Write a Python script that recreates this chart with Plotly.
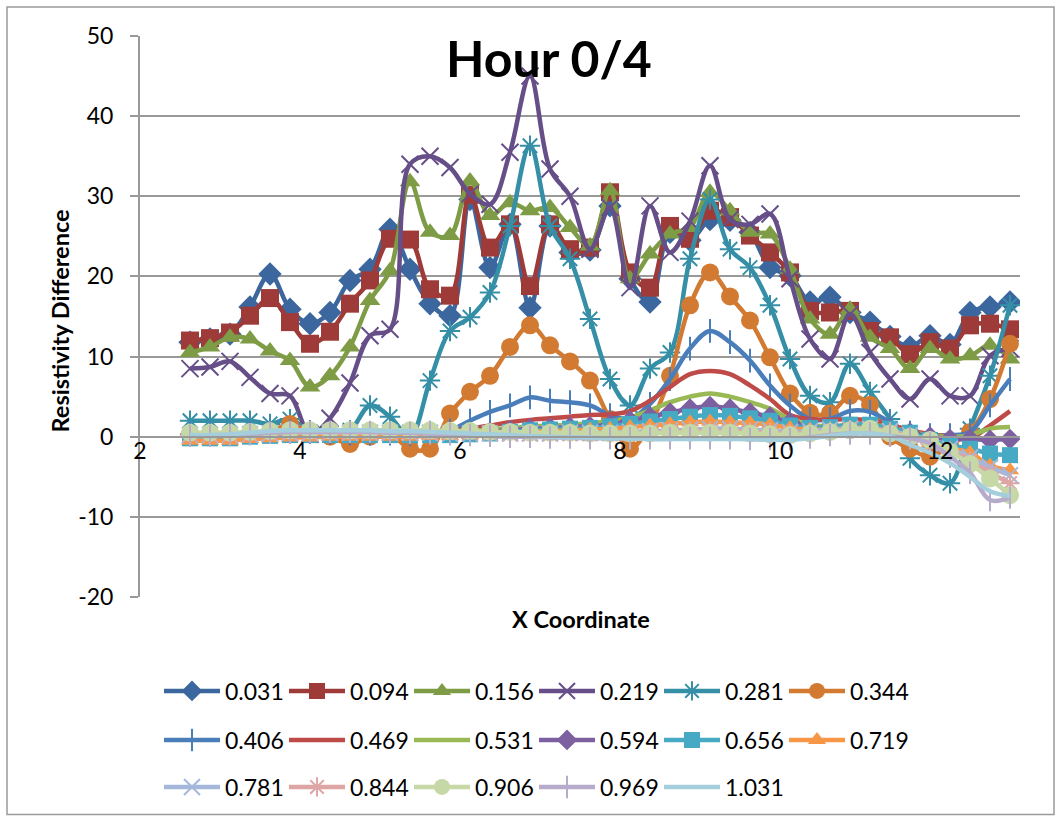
import plotly.graph_objects as go

x_coord = [2.625, 2.875, 3.125, 3.375, 3.625, 3.875, 4.125, 4.375, 4.625, 4.875,
           5.125, 5.375, 5.625, 5.875, 6.125, 6.375, 6.625, 6.875, 7.125, 7.375,
           7.625, 7.875, 8.125, 8.375, 8.625, 8.875, 9.125, 9.375, 9.625, 9.875,
           10.125, 10.375, 10.625, 10.875, 11.125, 11.375, 11.625, 11.875, 12.125, 12.375,
           12.625, 12.875]

series_names = ["0.031", "0.094", "0.156", "0.219", "0.281", "0.344", "0.406", "0.469", "0.531",
                "0.594", "0.656", "0.719", "0.781", "0.844", "0.906", "0.969", "1.031"]

s_0031 = [11.8, 12.2, 12.8, 16.2, 20.3, 15.9, 14.1, 15.5, 19.5, 20.9, 25.9, 20.9, 16.6, 15.1, 29.6, 21.1,
          26.5, 16.1, 26.3, 23.0, 23.3, 28.8, 19.7, 16.8, 25.5, 24.5, 27.1, 27.0, 25.5, 21.1, 20.1, 16.8,
          17.4, 15.5, 14.3, 12.5, 11.2, 12.6, 11.5, 15.5, 16.2, 16.8]
s_0094 = [12.0, 12.3, 13.0, 15.1, 17.3, 14.3, 11.6, 13.1, 16.6, 19.5, 24.7, 24.6, 18.4, 17.6, 30.2, 23.6,
          26.5, 18.8, 26.5, 23.4, 23.6, 30.5, 20.5, 18.6, 26.3, 24.7, 28.2, 27.4, 25.1, 23.0, 20.5, 15.7,
          15.5, 15.7, 13.2, 12.4, 10.3, 11.8, 11.0, 13.9, 14.1, 13.4]
s_0156 = [10.5, 11.2, 12.4, 12.2, 10.7, 9.5, 6.2, 7.6, 11.2, 17.0, 20.7, 31.8, 25.5, 25.1, 31.9, 27.6,
          29.2, 28.2, 28.6, 26.1, 23.8, 30.7, 19.7, 22.8, 25.3, 26.1, 30.5, 28.2, 25.5, 25.3, 20.9, 14.7,
          12.8, 15.9, 12.4, 11.0, 8.5, 11.0, 9.7, 10.1, 11.4, 9.7]
s_0219 = [8.5, 8.7, 9.4, 7.4, 5.4, 5.1, 0.3, 2.3, 6.7, 12.6, 13.4, 34.0, 35.0, 33.6, 30.3, 29.0,
          35.5, 45.0, 33.4, 30.0, 23.4, 28.6, 18.6, 28.8, 23.0, 26.9, 33.8, 27.1, 26.5, 27.8, 19.7, 12.2,
          9.7, 15.3, 10.5, 7.2, 4.7, 7.2, 5.1, 5.1, 10.1, 11.0]
s_0281 = [2.0, 2.0, 2.0, 2.0, 1.6, 2.2, 0.6, 0.5, 0.8, 3.9, 2.5, 0.0, 7.0, 13.2, 14.9, 18.0,
          26.3, 36.3, 26.3, 22.2, 14.7, 7.2, 3.9, 8.5, 10.5, 22.2, 29.6, 23.4, 21.1, 16.4, 9.7, 5.1,
          4.3, 9.1, 5.6, 2.2, -2.7, -4.8, -5.8, 1.0, 7.6, 16.4]
s_0344 = [0.3, 0.3, 0.3, 0.4, 0.6, 1.6, 0.5, 0.0, -0.9, 0.0, 0.3, -1.5, -1.5, 2.9, 5.6, 7.6,
          11.2, 13.9, 11.4, 9.4, 7.0, 2.2, -1.5, 1.5, 7.6, 16.4, 20.5, 17.5, 14.5, 9.9, 5.4, 3.0,
          2.9, 5.1, 4.0, 0.0, -1.5, -2.5, -1.0, 0.6, 4.7, 11.6]
s_0406 = [0.4, 0.4, 0.4, 0.5, 0.6, 0.7, 0.6, 0.5, 0.4, 0.4, 0.4, 0.3, 0.5, 0.8, 2.0, 3.1,
          3.9, 4.9, 4.5, 4.3, 3.9, 2.7, 2.2, 4.1, 7.2, 11.0, 13.2, 11.8, 9.5, 6.4, 3.9, 2.2,
          2.2, 3.2, 3.1, 1.8, 0.5, 0.2, 0.2, 0.6, 3.9, 7.2]
s_0469 = [0.3, 0.3, 0.3, 0.4, 0.5, 0.5, 0.5, 0.4, 0.4, 0.4, 0.4, 0.4, 0.5, 0.7, 1.0, 1.4,
          1.8, 2.1, 2.3, 2.5, 2.7, 2.8, 3.2, 4.5, 6.2, 7.8, 8.2, 7.8, 6.4, 4.7, 2.7, 2.2,
          2.1, 2.2, 2.0, 1.5, 0.8, 0.3, 0.0, -0.2, 1.4, 3.2]
s_0531 = [0.3, 0.3, 0.3, 0.4, 0.5, 0.5, 0.5, 0.4, 0.4, 0.4, 0.4, 0.4, 0.4, 0.5, 0.7, 0.9,
          1.1, 1.3, 1.4, 1.5, 1.7, 1.9, 2.4, 3.3, 4.3, 5.0, 5.4, 5.0, 4.3, 3.5, 2.2, 1.5,
          1.3, 1.5, 1.5, 1.2, 0.6, 0.2, 0.0, 0.2, 1.0, 1.2]
s_0594 = [0.3, 0.3, 0.3, 0.4, 0.4, 0.4, 0.4, 0.4, 0.4, 0.4, 0.4, 0.4, 0.4, 0.4, 0.5, 0.6,
          0.8, 1.0, 1.1, 1.2, 1.3, 1.5, 2.0, 2.5, 3.0, 3.5, 3.8, 3.5, 3.0, 2.5, 1.8, 1.2,
          1.0, 1.2, 1.2, 1.0, 0.5, 0.0, -0.3, -0.3, -0.4, -0.3]
s_0656 = [-0.2, -0.2, -0.2, 0.0, 0.1, 0.2, 0.2, 0.2, 0.2, 0.2, 0.2, 0.2, 0.2, 0.2, 0.3, 0.4,
          0.6, 0.8, 0.9, 1.0, 1.1, 1.3, 1.6, 1.9, 2.2, 2.5, 2.7, 2.6, 2.3, 2.0, 1.4, 1.1,
          1.2, 1.5, 1.5, 1.0, 0.5, -0.4, -1.1, -1.5, -2.1, -2.3]
s_0719 = [-0.5, -0.5, -0.5, -0.3, -0.2, -0.1, -0.1, 0.0, 0.0, 0.0, 0.0, 0.0, 0.1, 0.1, 0.2, 0.3,
          0.5, 0.6, 0.7, 0.8, 0.9, 1.0, 1.2, 1.4, 1.6, 1.8, 1.9, 1.8, 1.7, 1.5, 1.1, 0.9,
          0.9, 1.1, 1.1, 0.7, 0.1, -0.8, -1.5, -2.0, -3.6, -4.2]
s_0781 = [0.2, 0.2, 0.2, 0.3, 0.4, 0.5, 0.5, 0.5, 0.5, 0.5, 0.5, 0.5, 0.5, 0.4, 0.4, 0.4,
          0.4, 0.4, 0.4, 0.5, 0.5, 0.5, 0.6, 0.7, 0.8, 0.9, 1.0, 1.0, 0.9, 0.8, 0.6, 0.7,
          0.9, 1.0, 1.0, 0.7, 0.2, -0.8, -1.5, -2.6, -3.8, -4.8]
s_0844 = [0.2, 0.2, 0.2, 0.3, 0.4, 0.5, 0.5, 0.5, 0.5, 0.5, 0.5, 0.5, 0.4, 0.4, 0.4, 0.4,
          0.3, 0.3, 0.3, 0.3, 0.3, 0.3, 0.4, 0.5, 0.6, 0.7, 0.7, 0.7, 0.6, 0.5, 0.4, 0.5,
          0.7, 0.9, 0.9, 0.6, 0.0, -0.9, -1.8, -3.0, -4.5, -5.8]
s_0906 = [0.5, 0.5, 0.5, 0.6, 0.7, 0.8, 0.8, 0.8, 0.8, 0.8, 0.8, 0.8, 0.8, 0.7, 0.7, 0.6,
          0.6, 0.5, 0.5, 0.5, 0.4, 0.4, 0.4, 0.4, 0.5, 0.5, 0.5, 0.5, 0.4, 0.3, 0.2, 0.4,
          0.6, 0.8, 1.0, 0.4, 0.0, -0.4, -1.9, -3.4, -5.2, -7.3]
s_0969 = [0.1, 0.1, 0.2, 0.3, 0.5, 0.6, 0.6, 0.6, 0.6, 0.6, 0.5, 0.5, 0.4, 0.3, 0.2, 0.1,
          0.0, 0.0, -0.1, -0.1, -0.2, -0.2, -0.2, -0.2, -0.2, -0.2, -0.2, -0.2, -0.3, -0.3, -0.3, -0.1,
          0.2, 0.4, 0.4, 0.1, -0.2, -0.8, -2.5, -4.5, -7.9, -7.6]
s_1031 = [0.2, 0.2, 0.3, 0.5, 0.7, 0.8, 0.8, 0.8, 0.8, 0.8, 0.7, 0.7, 0.6, 0.5, 0.4, 0.3,
          0.2, 0.1, 0.0, -0.1, -0.1, -0.2, -0.2, -0.3, -0.3, -0.3, -0.3, -0.3, -0.3, -0.4, -0.4, -0.2,
          0.1, 0.4, 0.4, 0.1, -1.0, -2.0, -3.3, -5.0, -6.8, -7.4]

y_ticks = [-20, -10, 0, 10, 20, 30, 40, 50]
y_tick_text = ["-20", "-10", "0", "10", "20", "30", "40", "50"]
x_ticks = [2, 4, 6, 8, 10, 12]

all_series = [s_0031, s_0094, s_0156, s_0219, s_0281, s_0344, s_0406, s_0469, s_0531,
              s_0594, s_0656, s_0719, s_0781, s_0844, s_0906, s_0969, s_1031]

colors = ["#3C679E", "#9E3B39", "#7E9C45", "#664E88", "#358FA6", "#D27A32",
          "#4A7EBB", "#BE4B48", "#98B954", "#7D60A0", "#46AAC5", "#F79646",
          "#A5B8DB", "#DDA5A4", "#C5D8A5", "#B7ABCB", "#A5CEDC"]
symbols = ["diamond", "square", "triangle-up", "x-thin-open", "asterisk-open", "circle",
           "line-ns-open", None, None, "diamond", "square", "triangle-up",
           "x-thin-open", "asterisk-open", "circle", "line-ns-open", None]
sizes = [18, 18, 18, 17, 17, 18, 17, 0, 0, 16, 16, 16, 16, 16, 18, 16, 0]

FONT = "Lato"
L, R, T, B = 140, 37, 36, 221
W, H = 1057, 819
PW, PH = W - L - R, H - T - B


def px(xp):
    return (xp - L) / PW


def py(yp):
    return (H - B - yp) / PH


fig = go.Figure()
for i, (name, vals) in enumerate(zip(series_names, all_series)):
    sym = symbols[i]
    legend_id = "legend" if i < 6 else ("legend2" if i < 12 else "legend3")
    common = dict(x=x_coord, y=vals, name=name, legend=legend_id,
                  line=dict(color=colors[i], width=4.5, shape="spline", smoothing=1.0))
    if sym is None:
        fig.add_trace(go.Scatter(mode="lines", **common))
    else:
        is_open = sym.endswith("open")
        marker = dict(symbol=sym, size=sizes[i], color=colors[i],
                      line=dict(color=colors[i], width=2 if is_open else 0))
        fig.add_trace(go.Scatter(mode="lines+markers", marker=marker, **common))

grid_col = "#999999"
fig.update_layout(
    width=W, height=H,
    margin=dict(l=L, r=R, t=T, b=B),
    paper_bgcolor="white", plot_bgcolor="white",
    font=dict(family=FONT, size=23, color="black"),
    showlegend=True,
    xaxis=dict(range=[2, 13], tickvals=x_ticks, showgrid=False, zeroline=False,
               showline=True, linecolor=grid_col, linewidth=2,
               anchor="free", position=20 / 70, ticks="", ticklabelstandoff=-6,
               tickfont=dict(family=FONT, size=23, color="black")),
    yaxis=dict(range=[-20, 50], tickvals=y_ticks, ticktext=y_tick_text,
               showgrid=True, gridcolor=grid_col, gridwidth=2,
               zeroline=False, showline=True, linecolor=grid_col, linewidth=2,
               ticks="outside", ticklen=8, tickcolor=grid_col, tickwidth=2,
               ticklabelstandoff=12,
               tickfont=dict(family=FONT, size=23, color="black")),
)

leg_common = dict(orientation="h", xref="paper", yref="paper", xanchor="left", yanchor="middle",
                  entrywidth=54, entrywidthmode="pixels", itemwidth=56,
                  bgcolor="rgba(0,0,0,0)", font=dict(family=FONT, size=23, color="black"),
                  traceorder="normal", itemclick=False)
fig.update_layout(
    legend=dict(x=px(159), y=py(691), **leg_common),
    legend2=dict(x=px(159), y=py(740), **leg_common),
    legend3=dict(x=px(159), y=py(787), **leg_common),
)

fig.add_annotation(text="<b>Hour 0/4</b>", x=px(549), y=py(58), xref="paper", yref="paper",
                   showarrow=False, font=dict(family=FONT, size=50, color="black"),
                   xanchor="center", yanchor="middle")
fig.add_annotation(text="<b>X Coordinate</b>", x=px(581), y=py(620), xref="paper", yref="paper",
                   showarrow=False, font=dict(family=FONT, size=23.5, color="black"),
                   xanchor="center", yanchor="middle")
fig.add_annotation(text="<b>Resistivity Difference</b>", x=px(60), y=py(322), xref="paper", yref="paper",
                   showarrow=False, textangle=-90, font=dict(family=FONT, size=23.5, color="black"),
                   xanchor="center", yanchor="middle")

fig.add_shape(type="rect", xref="paper", yref="paper", x0=px(7), x1=px(1054), y0=py(816), y1=py(7),
              line=dict(color="#9a9a9a", width=1.5), fillcolor="rgba(0,0,0,0)", layer="below")

fig.write_html("out.html")
